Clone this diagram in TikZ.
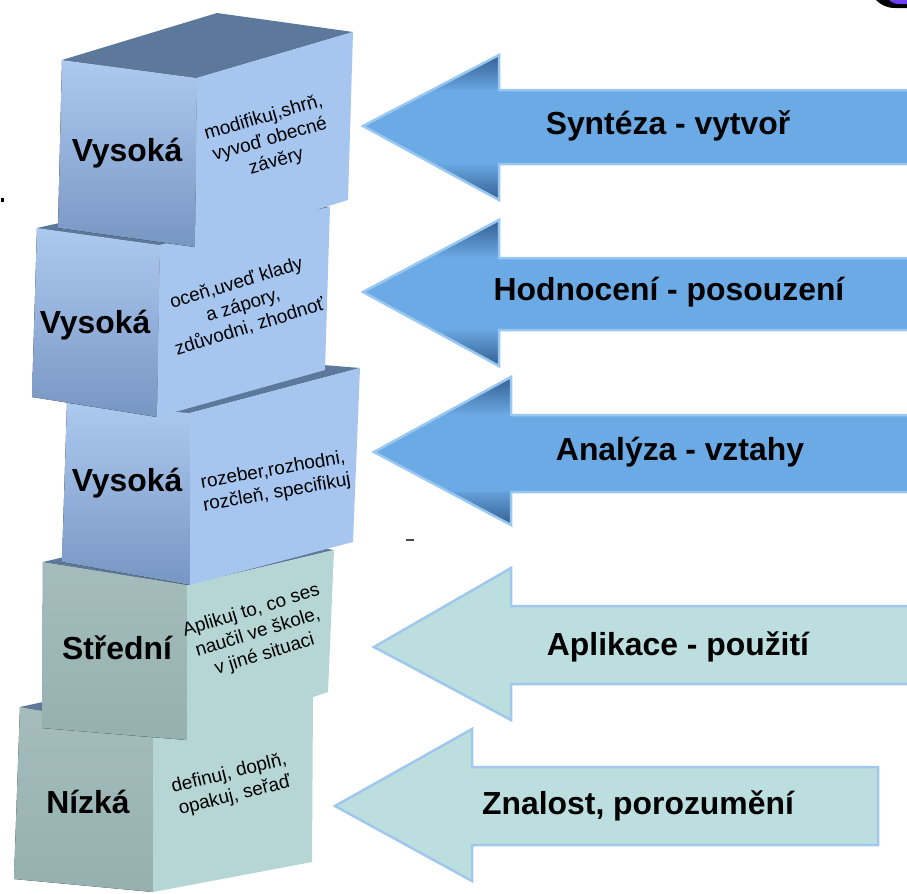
\documentclass[tikz,border=0pt]{standalone}
\usepackage{fontspec}
\setmainfont{Liberation Sans}
\usepackage{tikz}

\definecolor{bfronttop}{RGB}{172,202,240}
\definecolor{bfrontbot}{RGB}{120,150,194}
\definecolor{brightc}{RGB}{166,198,240}
\definecolor{btopc}{RGB}{92,120,155}
\definecolor{gfronttop}{RGB}{164,188,188}
\definecolor{gfrontbot}{RGB}{150,176,176}
\definecolor{grightc}{RGB}{182,214,214}
\definecolor{bmid}{RGB}{108,170,230}
\definecolor{bdark}{RGB}{52,96,146}
\definecolor{bline}{RGB}{152,200,242}
\definecolor{gfill}{RGB}{188,222,222}
\definecolor{gline}{RGB}{160,200,236}
\definecolor{cornerpurple}{RGB}{112,64,240}

\pgfdeclareverticalshading{headshade}{100bp}{color(0bp)=(bdark); color(25bp)=(bdark);
  color(38bp)=(bmid); color(62bp)=(bmid); color(75bp)=(bdark); color(100bp)=(bdark)}

\begin{document}
\begin{tikzpicture}[x=1bp,y=-1bp,
    bfront/.style={top color=bfronttop,bottom color=bfrontbot},
    bright/.style={fill=brightc},
    btop/.style={fill=btopc},
    gfront/.style={top color=gfronttop,bottom color=gfrontbot},
    gright/.style={fill=grightc},
    level/.style={font=\fontsize{32}{36}\selectfont\bfseries},
    verbs/.style={font=\fontsize{19}{23}\selectfont,align=center,inner sep=0pt},
    arrowtext/.style={font=\fontsize{32}{36}\selectfont\bfseries},
    bhead/.style={shading=headshade},
    barrow/.style={draw=bline,line width=2.5bp,line join=miter},
    garrow/.style={fill=gfill,draw=gline,line width=2.5bp,line join=miter}]
    \useasboundingbox (0,0) rectangle (907,894);

    % cube 5 - Nizka
    \fill[btopc] (20,707) -- (180,672) -- (313,695) -- (153,730) -- cycle;
    \fill[gfront] (20,707) -- (153,730) -- (153,892) -- (14,879) -- cycle;
    \fill[gright] (153,730) -- (313,695) -- (312,862) -- (153,892) -- cycle;
    \node[level] (ni) at (88,802) {Nízká};
    \node[verbs, rotate=14] (t5) at (232,785) {definuj, doplň,\\opakuj, seřaď};

    % cube 4 - Stredni
    \fill[btopc] (43,562) -- (190,527) -- (334,550) -- (187,585) -- cycle;
    \fill[gfront] (43,562) -- (187,585) -- (187,740) -- (42,728) -- cycle;
    \fill[gright] (187,585) -- (334,550) -- (328,692) -- (187,740) -- cycle;
    \node[level] (st) at (117,648) {Střední};
    \node[verbs, rotate=17] (t4) at (258,633) {Aplikuj to, co ses\\naučil ve škole,\\v jiné situaci};

    % cube 3
    \fill[btop] (67,403) -- (237,358) -- (360,368) -- (190,413) -- cycle;
    \fill[bfront] (67,403) -- (190,413) -- (190,585) -- (62,562) -- cycle;
    \fill[bright] (190,413) -- (360,368) -- (353,542) -- (190,585) -- cycle;
    \node[level] (v3) at (127,483) {Vysoká};
    \node[verbs, rotate=10] (t3) at (275,482) {rozeber,rozhodni,\\rozčleň, specifikuj};

    % cube 2
    \fill[btop] (37,228) -- (207,190) -- (330,207) -- (160,245) -- cycle;
    \fill[bfront] (37,228) -- (160,245) -- (157,417) -- (32,397) -- cycle;
    \fill[bright] (160,245) -- (330,207) -- (325,370) -- (157,417) -- cycle;
    \node[level] (v2) at (95,325) {Vysoká};
    \node[verbs, rotate=17] (t2) at (243,305) {oceň,uveď klady\\a zápory,\\zdůvodni, zhodnoť};

    % cube 1
    \fill[btop] (62,60) -- (217,13) -- (353,32) -- (197,78) -- cycle;
    \fill[bfront] (62,60) -- (197,78) -- (195,247) -- (58,228) -- cycle;
    \fill[bright] (197,78) -- (353,32) -- (348,200) -- (195,247) -- cycle;
    \node[level] (v1) at (127,153) {Vysoká};
    \node[verbs, rotate=16] (t1) at (270,140) {modifikuj,shrň,\\vyvoď obecné\\závěry};

    % arrows, blue
    \shade[bhead] (363,126) -- (499,55) -- (499,200) -- cycle;
    \fill[bmid] (440,90) rectangle (915,164);
    \draw[barrow] (363,126) -- (499,55) -- (499,90) -- (915,90) -- (915,164) -- (499,164) -- (499,200) -- cycle;
    \node[arrowtext] (syn) at (668,126) {Syntéza - vytvoř};

    \shade[bhead] (363,292) -- (499,220) -- (499,366) -- cycle;
    \fill[bmid] (440,258) rectangle (915,330);
    \draw[barrow] (363,292) -- (499,220) -- (499,258) -- (915,258) -- (915,330) -- (499,330) -- (499,366) -- cycle;
    \node[arrowtext] (hod) at (669,292) {Hodnocení - posouzení};

    \shade[bhead] (374,452) -- (511,377) -- (511,525) -- cycle;
    \fill[bmid] (452,415) rectangle (915,492);
    \draw[barrow] (374,452) -- (511,377) -- (511,415) -- (915,415) -- (915,492) -- (511,492) -- (511,525) -- cycle;
    \node[arrowtext] (ana) at (680,452) {Analýza - vztahy};

    % arrows, green
    \draw[garrow] (374,647) -- (511,568) -- (511,606) -- (915,606) -- (915,684) -- (511,684) -- (511,720) -- cycle;
    \node[arrowtext] (apl) at (678,647) {Aplikace - použití};

    \draw[garrow] (335,806) -- (472,729) -- (472,767) -- (878,767) -- (878,845) -- (472,845) -- (472,881) -- cycle;
    \node[arrowtext] (zna) at (638,806) {Znalost, porozumění};

    % stray marks
    \fill[black] (876,0) .. controls (881,5) and (887,8) .. (895,8) -- (907,8) -- (907,0) -- cycle;
    \fill[cornerpurple] (889,0) .. controls (892,3) and (896,4) .. (900,4) -- (907,4) -- (907,0) -- cycle;
    \fill[black] (1,198) rectangle (4,202);
    \fill[black!70] (406,539) rectangle (414,541);
\end{tikzpicture}
\end{document}
